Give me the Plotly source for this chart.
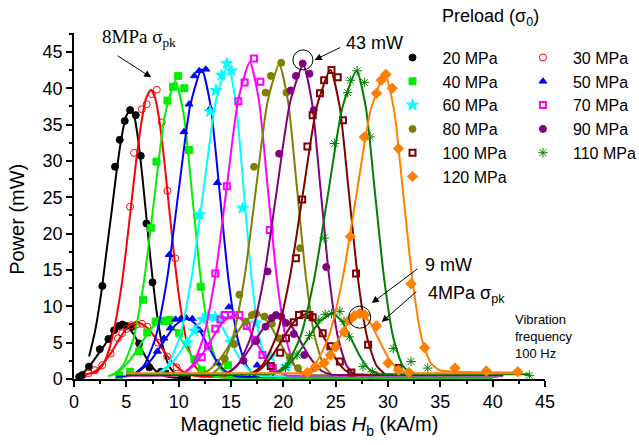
import plotly.graph_objects as go

# ---------------- data ----------------
SERIES = ["20 MPa", "30 MPa", "40 MPa", "50 MPa", "60 MPa", "70 MPa",
          "80 MPa", "90 MPa", "100 MPa", "110 MPa", "120 MPa"]

# fitted curves: high-power branch (8 MPa peak stress) and low branch (4 MPa)
P20_HI_FIT = [(1.44, 3.1), (2.0, 6.5), (2.63, 12.1), (3.1, 17.5), (3.55, 22.5), (4.0, 27.8),
              (4.48, 32.7), (4.95, 36.0), (5.4, 37.1), (5.78, 36.0), (6.15, 32.7), (6.52, 28.0),
              (6.9, 22.5), (7.27, 17.0), (7.65, 12.1), (8.02, 8.0), (8.4, 5.0), (9.15, 1.6),
              (9.9, 0.5), (11.0, 0.2)]
P20_LO_FIT = [(0.3, 0.2), (0.8, 0.7), (1.3, 1.5), (1.8, 2.4), (2.3, 3.4), (2.8, 4.4), (3.3, 5.5),
              (3.8, 6.4), (4.3, 7.0), (4.8, 7.3), (5.2, 7.1), (5.58, 6.4), (5.96, 5.5), (6.35, 4.4),
              (6.74, 3.35), (7.13, 2.4), (7.5, 1.6), (7.9, 1.0), (8.68, 0.4), (9.45, 0.2), (11.0, 0.1)]
P30_HI_FIT = [(2.0, 0.8), (2.68, 1.75), (3.15, 3.2), (3.61, 5.4), (4.08, 8.7), (4.55, 12.9),
              (5.01, 18.2), (5.48, 24.2), (5.95, 30.1), (6.42, 35.1), (6.88, 38.6), (7.35, 39.8),
              (7.77, 38.6), (8.2, 35.1), (8.62, 30.1), (9.04, 24.2), (9.47, 18.2), (9.89, 12.9),
              (10.31, 8.7), (10.73, 5.4), (11.58, 1.75), (12.42, 0.5), (13.5, 0.3)]
P30_LO_FIT = [(1.0, 0.6), (1.5, 0.75), (2.0, 1.05), (2.5, 1.7), (3.0, 2.5), (3.5, 3.5), (4.0, 4.7),
              (4.5, 5.9), (5.0, 6.9), (5.5, 7.5), (6.0, 7.8), (6.55, 7.5), (7.1, 6.9), (7.65, 5.9),
              (8.2, 4.7), (8.75, 3.5), (9.3, 2.5), (9.85, 1.7), (10.4, 1.05), (11.5, 0.45),
              (12.6, 0.3), (14.0, 0.3), (40.0, 0.3)]
P40_HI_FIT = [(3.67, 0.45), (4.67, 1.8), (5.67, 5.5), (6.67, 13.3), (7.67, 24.9), (8.67, 36.2),
              (9.67, 41.0), (10.5, 36.2), (11.32, 24.9), (12.15, 13.3), (12.97, 5.5), (13.8, 1.8),
              (14.62, 0.45), (15.5, 0.2)]
P40_LO_FIT = [(3.25, 0.35), (4.3, 1.08), (5.35, 2.6), (6.4, 4.86), (7.45, 7.06), (8.5, 8.0),
              (9.5, 7.06), (10.5, 4.86), (11.5, 2.6), (12.5, 1.08), (13.5, 0.35), (14.5, 0.15),
              (16.0, 0.12), (40.0, 0.12)]
P50_HI_FIT = [(5.6, 0.47), (6.7, 1.9), (7.8, 5.75), (8.9, 13.8), (10.0, 25.9), (11.1, 37.6),
              (12.2, 42.6), (13.05, 37.6), (13.9, 25.9), (14.75, 13.8), (15.6, 5.75), (16.45, 1.9),
              (17.3, 0.47), (18.5, 0.3)]
P50_LO_FIT = [(4.05, 0.3), (5.18, 0.4), (6.3, 1.14), (7.43, 2.73), (8.55, 5.1), (9.68, 7.4),
              (10.8, 8.4), (11.7, 7.4), (12.6, 5.1), (13.5, 2.73), (14.4, 1.14), (15.3, 0.45),
              (16.2, 0.3), (17.5, 0.3), (40.5, 0.3)]
P60_HI_FIT = [(7.8, 0.48), (8.95, 1.9), (10.1, 5.85), (11.25, 14.1), (12.4, 26.3), (13.55, 38.2),
              (14.7, 43.3), (15.45, 38.2), (16.2, 26.3), (16.95, 14.1), (17.7, 5.85), (18.45, 1.9),
              (19.2, 0.48)]
P60_LO_FIT = [(6.4, 0.35), (7.5, 0.4), (8.6, 1.16), (9.7, 2.8), (10.8, 5.2), (11.9, 7.6),
              (13.0, 8.6), (13.95, 7.6), (14.9, 5.2), (15.85, 2.8), (16.8, 1.16), (17.75, 0.45),
              (18.7, 0.35), (20.0, 0.35), (41.0, 0.35)]
P70_HI_FIT = [(10.2, 0.48), (11.3, 1.9), (12.4, 5.9), (13.5, 14.2), (14.6, 26.5), (15.7, 38.5),
              (16.8, 43.6), (17.65, 38.5), (18.5, 26.5), (19.35, 14.2), (20.2, 5.9), (21.05, 1.9),
              (21.9, 0.48)]
P70_LO_FIT = [(5.0, 0.45), (8.7, 0.45), (9.8, 0.5), (10.9, 1.19), (12.0, 2.86), (13.1, 5.34),
              (14.2, 7.76), (15.3, 8.8), (16.3, 7.76), (17.3, 5.34), (18.3, 2.86), (19.3, 1.19),
              (20.3, 0.5), (21.3, 0.45), (41.0, 0.45)]
P80_HI_FIT = [(13.0, 0.48), (14.1, 1.9), (15.2, 5.85), (16.3, 14.1), (17.4, 26.3), (18.5, 38.2),
              (19.6, 43.3), (20.45, 38.2), (21.3, 26.3), (22.15, 14.1), (23.0, 5.85), (23.85, 1.9),
              (24.7, 0.48)]
P80_LO_FIT = [(5.0, 0.5), (10.6, 0.5), (11.75, 0.55), (12.9, 1.22), (14.05, 2.93), (15.2, 5.46),
              (16.35, 7.94), (17.5, 9.0), (18.5, 7.94), (19.5, 5.46), (20.5, 2.93), (21.5, 1.22),
              (22.5, 0.55), (23.5, 0.5), (41.0, 0.5)]
P90_HI_FIT = [(14.4, 0.48), (15.65, 1.9), (16.9, 5.85), (18.15, 14.0), (19.4, 26.2), (20.65, 38.1),
              (21.9, 43.2), (22.73, 38.1), (23.55, 26.2), (24.38, 14.0), (25.2, 5.85), (26.03, 1.9),
              (26.85, 0.48)]
P90_LO_FIT = [(5.0, 0.55), (12.7, 0.55), (13.85, 0.6), (15.0, 1.17), (16.15, 2.83), (17.3, 5.28),
              (18.45, 7.67), (19.6, 8.7), (20.6, 7.67), (21.6, 5.28), (22.6, 2.83), (23.6, 1.17),
              (24.6, 0.6), (25.6, 0.55), (41.0, 0.55)]
P100_HI_FIT = [(16.7, 0.47), (18.0, 1.9), (19.3, 5.75), (20.6, 13.8), (21.9, 25.8), (23.2, 37.5),
               (24.5, 42.5), (25.38, 37.5), (26.25, 25.8), (27.13, 13.8), (28.0, 5.75), (28.88, 1.9),
               (29.75, 0.6)]
P100_LO_FIT = [(5.0, 0.6), (15.5, 0.6), (16.6, 0.65), (17.7, 1.2), (18.8, 2.89), (19.9, 5.4),
               (21.0, 7.85), (22.1, 8.9), (23.05, 7.85), (24.0, 5.4), (24.95, 2.89), (25.9, 1.2),
               (26.85, 0.65), (27.8, 0.6), (41.0, 0.6)]
P110_HI_FIT = [(18.9, 0.47), (20.25, 1.9), (21.6, 5.7), (22.95, 13.8), (24.3, 25.7), (25.65, 37.4),
               (27.0, 42.4), (27.88, 37.4), (28.75, 25.7), (29.63, 13.8), (30.5, 5.7), (31.38, 1.9),
               (32.25, 0.6)]
P110_LO_FIT = [(5.0, 0.65), (17.5, 0.65), (18.7, 0.7), (19.9, 1.22), (21.1, 2.93), (22.3, 5.46),
               (23.5, 7.94), (24.7, 9.0), (25.6, 7.94), (26.5, 5.46), (27.4, 2.93), (28.3, 1.22),
               (29.2, 0.7), (30.1, 0.65), (43.5, 0.65)]
P120_HI_FIT = [(21.6, 0.46), (22.95, 1.85), (24.3, 5.7), (25.65, 13.7), (27.0, 25.5), (28.35, 37.0),
               (29.7, 42.0), (30.58, 37.0), (31.45, 25.5), (32.33, 13.7), (33.2, 5.7), (34.08, 2.2),
               (34.95, 1.2), (36.5, 1.0), (42.5, 0.9)]
P120_LO_FIT = [(5.0, 0.8), (21.3, 0.8), (22.3, 0.85), (23.3, 1.32), (24.3, 3.0), (25.3, 5.5),
               (26.3, 7.94), (27.3, 9.0), (28.2, 7.94), (29.1, 5.5), (30.0, 3.0), (30.9, 1.4),
               (31.8, 0.9), (32.7, 0.8), (42.4, 0.8)]

# measured points
P20_PTS = [(2.71, 12.8), (3.92, 29.2), (4.37, 32.9), (4.85, 35.5), (5.36, 37.0), (5.9, 36.3),
           (6.38, 30.7), (6.92, 21.4), (7.5, 13.3),
           (0.5, 0.3), (0.8, 0.55), (1.43, 1.7), (2.46, 4.1), (3.28, 5.5), (3.83, 6.7), (4.3, 7.3),
           (4.62, 7.5), (5.0, 7.3), (5.6, 7.2), (6.22, 4.9), (7.2, 1.6), (8.3, 1.0), (8.77, 0.8),
           (10.8, 0.3)]
P30_PTS = [(5.36, 23.7), (5.74, 31.1), (6.48, 37.1), (6.95, 37.8), (7.43, 39.2), (7.91, 39.8),
           (8.39, 35.3), (8.93, 25.9), (9.67, 16.6),
           (1.4, 0.8), (2.0, 1.2), (2.7, 1.9), (3.5, 3.5), (4.2, 5.6), (4.6, 6.3), (5.0, 6.9),
           (5.5, 7.4), (6.0, 7.5), (6.5, 7.6), (7.0, 7.2), (8.0, 5.0), (8.9, 3.1), (9.8, 1.6)]
P40_PTS = [(6.6, 10.9), (7.34, 20.8), (7.88, 29.9), (8.93, 38.3), (9.47, 40.2), (9.95, 41.7),
           (10.53, 40.0), (11.0, 31.5), (12.1, 12.7),
           (4.3, 0.5), (5.36, 1.0), (6.22, 3.8), (7.0, 6.4), (7.8, 7.9), (8.3, 8.0), (8.8, 8.0),
           (9.1, 8.1), (10.05, 6.3), (11.5, 2.7), (12.2, 1.2), (14.7, 1.9)]
P50_PTS = [(9.1, 17.1), (10.5, 34.0), (11.0, 37.8), (11.5, 41.7), (11.96, 42.4), (12.6, 42.6),
           (13.0, 37.2), (13.7, 27.0), (14.8, 9.9),
           (7.97, 3.8), (8.6, 5.6), (9.2, 7.0), (9.7, 8.2), (10.2, 8.3), (10.7, 8.4), (11.3, 8.3),
           (12.0, 6.7), (13.7, 2.2), (17.5, 1.9)]
P60_PTS = [(12.0, 22.6), (13.0, 36.8), (13.56, 39.7), (14.1, 41.8), (14.6, 43.4), (15.05, 42.4),
           (16.1, 23.5), (17.4, 7.7),
           (10.8, 5.0), (11.5, 6.6), (12.3, 8.2), (12.8, 8.6), (13.5, 8.5), (14.0, 8.3),
           (15.0, 5.0), (18.8, 3.1), (20.3, 1.7)]
P70_PTS = [(13.5, 14.5), (14.6, 26.5), (15.7, 38.2), (16.3, 40.8), (17.2, 44.1), (17.8, 40.9),
           (18.7, 20.5),
           (12.2, 3.0), (12.8, 4.5), (13.5, 6.9), (14.0, 8.2), (14.4, 8.8), (15.0, 8.8),
           (15.8, 8.8), (16.5, 7.3), (17.3, 5.4), (18.0, 3.3), (19.0, 1.5)]
P80_PTS = [(15.8, 11.6), (17.2, 29.2), (18.3, 39.4), (18.8, 41.7), (19.8, 43.5), (20.3, 39.4),
           (21.6, 18.0),
           (14.4, 2.8), (15.3, 4.8), (16.4, 7.9), (17.0, 8.8), (17.4, 9.0), (18.2, 8.6),
           (18.9, 7.6), (19.6, 5.6), (20.6, 3.0), (21.4, 1.5)]
P90_PTS = [(18.5, 14.8), (19.6, 31.0), (20.7, 39.7), (21.2, 41.7), (21.85, 43.4), (22.5, 42.0),
           (22.9, 37.0), (24.1, 15.4),
           (16.2, 2.5), (17.4, 5.2), (18.3, 7.2), (18.9, 8.4), (19.3, 8.8), (19.8, 8.6),
           (20.25, 7.7), (21.0, 6.2), (22.0, 3.3), (23.0, 1.6)]
P100_PTS = [(21.2, 16.6), (21.8, 24.7), (22.3, 32.0), (22.8, 36.3), (23.5, 39.3), (23.9, 41.1),
            (24.6, 42.5), (25.2, 41.5), (25.7, 35.6), (26.95, 14.5), (28.1, 4.7),
            (18.8, 1.8), (19.7, 3.6), (20.25, 5.6), (21.0, 7.8), (21.5, 8.8), (22.0, 8.9),
            (22.5, 8.8), (22.8, 8.5), (23.76, 6.3), (24.5, 4.5), (25.4, 2.4), (26.5, 0.9), (31.0, 1.5)]
P110_PTS = [(23.9, 19.4), (24.9, 32.4), (26.15, 39.4), (26.4, 41.1), (27.05, 42.4), (27.75, 40.8),
            (28.3, 33.3), (30.5, 4.2), (32.2, 2.4), (33.8, 1.5), (43.5, 0.5),
            (20.2, 1.6), (21.3, 3.3), (22.5, 6.0), (23.4, 8.1), (24.0, 8.9), (24.6, 9.0),
            (25.4, 9.3), (25.8, 7.9), (26.3, 5.8), (27.6, 1.7), (28.5, 1.0)]
P120_PTS = [(26.4, 19.6), (27.75, 33.3), (28.9, 39.3), (29.35, 41.1), (29.8, 41.9), (30.4, 40.0),
            (31.0, 31.7), (32.2, 13.1), (33.5, 4.3), (36.4, 1.5), (39.4, 1.1), (42.4, 1.0),
            (22.3, 0.9), (23.1, 1.7), (23.9, 2.2), (24.5, 3.3), (25.0, 4.4), (25.8, 6.5),
            (26.3, 8.1), (26.8, 8.7), (27.3, 9.0), (27.8, 8.8), (28.9, 7.3), (30.0, 2.2),
            (31.0, 1.2), (32.0, 0.9)]

X_TICKS = [0, 5, 10, 15, 20, 25, 30, 35, 40, 45]
Y_TICKS = [0, 5, 10, 15, 20, 25, 30, 35, 40, 45]

# ---------------- styles ----------------
HI_FITS = [P20_HI_FIT, P30_HI_FIT, P40_HI_FIT, P50_HI_FIT, P60_HI_FIT, P70_HI_FIT,
           P80_HI_FIT, P90_HI_FIT, P100_HI_FIT, P110_HI_FIT, P120_HI_FIT]
LO_FITS = [P20_LO_FIT, P30_LO_FIT, P40_LO_FIT, P50_LO_FIT, P60_LO_FIT, P70_LO_FIT,
           P80_LO_FIT, P90_LO_FIT, P100_LO_FIT, P110_LO_FIT, P120_LO_FIT]
PTS = [P20_PTS, P30_PTS, P40_PTS, P50_PTS, P60_PTS, P70_PTS,
       P80_PTS, P90_PTS, P100_PTS, P110_PTS, P120_PTS]
COLORS = ["#000000", "#FF0000", "#00EE00", "#0000FF", "#00FFFF", "#FF00FF",
          "#808000", "#800080", "#800000", "#008000", "#FF8000"]
SYMBOLS = ["circle", "circle-open", "square", "triangle-up", "star", "square-open",
           "circle", "circle", "square-open", "asterisk-open", "diamond"]
SIZES = [7, 7, 7, 7, 9, 6, 7, 7, 6, 8, 8]

FONT = "Liberation Sans, Arial, sans-serif"
SERIF = "Liberation Serif, Times New Roman, serif"

fig = go.Figure()
for i, name in enumerate(SERIES):
    c = COLORS[i]
    for fit in (HI_FITS[i], LO_FITS[i]):
        fig.add_trace(go.Scatter(
            x=[p[0] for p in fit], y=[p[1] for p in fit], mode="lines",
            line=dict(color=c, width=2, shape="spline", smoothing=0.6),
            showlegend=False, hoverinfo="skip"))
    sym = SYMBOLS[i]
    mline = dict(color=c, width=1)
    if sym == "square-open":
        mline = dict(color=c, width=2)
    fig.add_trace(go.Scatter(
        x=[p[0] for p in PTS[i]], y=[p[1] for p in PTS[i]], mode="markers",
        marker=dict(symbol=sym, color=c, size=SIZES[i], line=mline),
        name=name, legend="legend" if i % 2 == 0 else "legend2"))

ann = []
arrow = dict(showarrow=True, arrowhead=2, arrowsize=1.4, arrowwidth=1, arrowcolor="black",
             axref="x", ayref="y", xref="x", yref="y", text="")
ann.append(dict(arrow, x=7.38, y=41.5, ax=4.02, ay=44.6))
ann.append(dict(arrow, x=22.99, y=43.9, ax=25.57, ay=45.7))
ann.append(dict(arrow, x=28.45, y=10.45, ax=32.95, ay=15.3))
ann.append(dict(arrow, x=29.4, y=7.84, ax=32.85, ay=12.2))
ann.append(dict(x=6.2, y=46.9, xref="x", yref="y", showarrow=False,
                text="8MPa σ<sub>pk</sub>", font=dict(family=SERIF, size=19, color="black")))
ann.append(dict(x=28.7, y=46.2, xref="x", yref="y", showarrow=False,
                text="43 mW", font=dict(family=FONT, size=18, color="black")))
ann.append(dict(x=35.8, y=15.7, xref="x", yref="y", showarrow=False,
                text="9 mW", font=dict(family=FONT, size=18, color="black")))
ann.append(dict(x=37.5, y=11.6, xref="x", yref="y", showarrow=False,
                text="4MPa σ<sub>pk</sub>", font=dict(family=FONT, size=18, color="black")))
ann.append(dict(x=41.9, y=5.8, xref="x", yref="y", showarrow=False, xanchor="left",
                align="left", text="Vibration<br>frequency<br>100 Hz",
                font=dict(family=FONT, size=13, color="black")))
ann.append(dict(x=0.885, y=1.046, xref="paper", yref="paper", showarrow=False,
                xanchor="center", yanchor="middle",
                text="Preload (σ<sub>0</sub>)", font=dict(family=FONT, size=18, color="black")))
ann.append(dict(x=-0.121, y=0.46, xref="paper", yref="paper", showarrow=False,
                xanchor="center", yanchor="middle", textangle=-90,
                text="Power (mW)", font=dict(family=FONT, size=20, color="black")))

shapes = [
    dict(type="circle", xref="x", yref="y", xsizemode="pixel", ysizemode="pixel",
         xanchor=21.87, yanchor=43.9, x0=-10, x1=10, y0=-10, y1=10,
         line=dict(color="black", width=1)),
    dict(type="circle", xref="x", yref="y", xsizemode="pixel", ysizemode="pixel",
         xanchor=27.3, yanchor=8.5, x0=-11, x1=11, y0=-11, y1=11,
         line=dict(color="black", width=1)),
]

legend_common = dict(font=dict(family=FONT, size=16, color="black"), bgcolor="rgba(0,0,0,0)",
                     itemsizing="trace", tracegroupgap=0, xanchor="left", yanchor="top",
                     itemwidth=50)

fig.update_layout(
    width=639, height=445,
    margin=dict(l=74, r=94, t=33, b=66, autoexpand=False),
    paper_bgcolor="white", plot_bgcolor="white",
    font=dict(family=FONT, size=17, color="black"),
    annotations=ann, shapes=shapes,
    legend=dict(legend_common, x=0.655, y=0.978),
    legend2=dict(legend_common, x=0.932, y=0.978),
    xaxis=dict(range=[0, 45], tickvals=X_TICKS, ticks="outside", ticklen=6, tickwidth=1.5,
               tickcolor="black", showline=True, linecolor="black", linewidth=1.5,
               showgrid=False, zeroline=False, tickfont=dict(size=18), automargin=False,
               minor=dict(dtick=2.5, ticks="outside", ticklen=3, tickwidth=1.5, tickcolor="black"),
               title=dict(text="Magnetic field bias <i>H</i><sub>b</sub> (kA/m)",
                          font=dict(size=20), standoff=6)),
    yaxis=dict(range=[0, 47.6], tickvals=Y_TICKS, ticks="outside", ticklen=6, tickwidth=1.5,
               tickcolor="black", showline=True, linecolor="black", linewidth=1.5,
               showgrid=False, zeroline=False, tickfont=dict(size=18), automargin=False,
               minor=dict(dtick=2.5, ticks="outside", ticklen=3, tickwidth=1.5, tickcolor="black")),
)

fig.write_html("out.html", config={"displayModeBar": False},
               post_script="document.body.style.margin='0';")
